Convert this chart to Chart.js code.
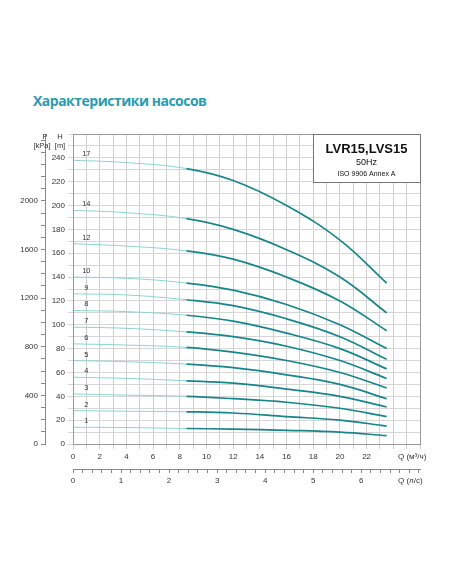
<!DOCTYPE html>
<html><head><meta charset="utf-8">
<script src="https://cdn.jsdelivr.net/npm/chart.js@4"></script>
<style>
body{margin:0;background:#fff;width:452px;height:584px;overflow:hidden;position:relative;font-family:"Open Sans",sans-serif}
#title{position:absolute;left:33px;top:91px;font-size:14px;font-weight:bold;color:#2a9cb0;font-family:"Open Sans",sans-serif;letter-spacing:-0.5px}
canvas{position:absolute;left:0;top:0}
</style></head><body>
<div id="title">Характеристики насосов</div>
<canvas id="c" width="452" height="584"></canvas>
<script>
const flow = [0, 4, 8.5, 12, 16, 20, 23.5];
const stages = [17, 14, 12, 10, 9, 8, 7, 6, 5, 4, 3, 2, 1];
const heads = {
  17: [238, 236, 231, 221, 200, 171, 135],
  14: [196, 194, 189, 180, 163, 140, 110],
  12: [168, 166, 162, 155, 140, 120, 95],
  10: [140, 139, 135, 129, 117, 100, 80],
  9: [126, 125, 121, 116, 105, 90, 71],
  8: [112, 111, 108, 103, 93, 80, 63],
  7: [98, 97, 94, 90, 82, 70, 55],
  6: [84, 83, 81, 77, 70, 60, 47],
  5: [70, 69, 67, 64, 58, 50, 38],
  4: [56, 55, 53, 51, 46, 40, 31],
  3: [42, 41, 40, 38, 35, 30, 23],
  2: [28, 27.5, 27, 26, 23, 20, 15],
  1: [14, 13.8, 13, 12.5, 11.5, 10, 7]
};
const qTicks = [0, 2, 4, 6, 8, 10, 12, 14, 16, 18, 20, 22];
const lsTicks = [0, 1, 2, 3, 4, 5, 6];
const pTicks = [0, 400, 800, 1200, 1600, 2000];
const hTicks = [0, 20, 40, 60, 80, 100, 120, 140, 160, 180, 200, 220, 240];

const light = '#8fd3d0', dark = '#17858a';
const datasets = stages.map(s => ({
  label: String(s),
  data: flow.map((q, i) => ({x: q, y: heads[s][i]})),
  borderColor: dark,
  borderWidth: 1.6,
  pointRadius: 0,
  tension: 0.4,
  segment: {
    borderColor: c => c.p0.parsed.x < 8.4 ? light : dark,
    borderWidth: c => c.p0.parsed.x < 8.4 ? 1 : 1.7
  }
}));

const fix = (w, h) => s => { if (w) s.width = w; if (h) s.height = h; };
const tickFont = {size: 8, family: 'Arial'};

const extras = {
  id: 'extras',
  afterDraw(chart) {
    const {ctx, chartArea: a, scales} = chart;
    const x = scales.x, y = scales.y;
    ctx.save();
    ctx.strokeStyle = '#999';
    ctx.lineWidth = 1;
    ctx.strokeRect(a.left + 0.5, a.top + 0.5, a.right - a.left, a.bottom - a.top);
    ctx.fillStyle = '#333';
    ctx.font = '7.5px Arial';
    ctx.textAlign = 'center';
    ctx.fillText('P', 45, 139);
    ctx.fillText('[kPa]', 42, 148);
    ctx.fillText('H', 60, 139);
    ctx.fillText('[m]', 60, 148);
    ctx.textAlign = 'left';
    ctx.font = '8px Arial';
    ctx.fillText('Q (м³/ч)', 398, 459);
    ctx.fillText('Q (л/с)', 398, 483);
    ctx.font = '7.5px Arial';
    ctx.textAlign = 'center';
    stages.forEach(s => {
      ctx.fillText(String(s), x.getPixelForValue(1), y.getPixelForValue(heads[s][0]) - 4);
    });
    const bx = 313, by = a.top, bw = a.right - bx, bh = 48;
    ctx.fillStyle = '#fff';
    ctx.fillRect(bx, by, bw, bh);
    ctx.strokeStyle = '#777';
    ctx.strokeRect(bx + 0.5, by + 0.5, bw, bh);
    ctx.fillStyle = '#111';
    ctx.font = 'bold 13px Arial';
    ctx.fillText('LVR15,LVS15', bx + bw / 2, by + 19);
    ctx.font = '9px Arial';
    ctx.fillText('50Hz', bx + bw / 2, by + 31);
    ctx.font = '7px Arial';
    ctx.fillText('ISO 9906 Annex A', bx + bw / 2, by + 42);
    ctx.restore();
  }
};

new Chart(document.getElementById('c'), {
  type: 'line',
  data: {datasets},
  plugins: [extras],
  options: {
    responsive: false,
    animation: false,
    layout: {padding: {top: 134, right: 32, bottom: 90, left: 0}},
    plugins: {legend: {display: false}, tooltip: {enabled: false}},
    scales: {
      x: {
        type: 'linear', min: 0, max: 26, position: 'bottom',
        ticks: {stepSize: 1, autoSkip: false, maxRotation: 0, font: tickFont, color: '#333',
          callback: v => qTicks.includes(v) ? String(v) : ''},
        grid: {color: '#cfcfcf', tickLength: 5},
        border: {color: '#888'},
        afterFit: fix(null, 25)
      },
      ls: {
        type: 'linear', min: 0, max: 26 / 3.6, position: 'bottom',
        afterBuildTicks: s => { const t = []; for (let i = 0; i <= 36; i++) t.push({value: i * 0.2}); s.ticks = t; },
        ticks: {autoSkip: false, maxRotation: 0, font: tickFont, color: '#333',
          callback: v => { const r = Math.round(v); return Math.abs(v - r) < 1e-6 && lsTicks.includes(r) ? String(r) : ''; }},
        grid: {drawOnChartArea: false, color: '#888', tickLength: 4},
        border: {color: '#888'},
        afterFit: fix(null, 25)
      },
      y: {
        type: 'linear', min: 0, max: 260, position: 'left',
        ticks: {stepSize: 10, autoSkip: false, font: tickFont, color: '#333', padding: 3,
          callback: v => hTicks.includes(v) ? String(v) : ''},
        grid: {color: '#d6d6d6', tickLength: 5},
        border: {color: '#888'},
        afterFit: fix(28)
      },
      p: {
        type: 'linear', min: 0, max: 260 * 9.81, position: 'left',
        afterBuildTicks: s => { const t = []; for (let i = 0; i <= 25; i++) t.push({value: i * 100}); s.ticks = t; },
        ticks: {autoSkip: false, font: tickFont, color: '#333', padding: 3,
          callback: v => pTicks.includes(v) ? String(v) : ''},
        grid: {drawOnChartArea: false, color: '#888', tickLength: 4},
        border: {color: '#888'},
        afterFit: fix(45)
      }
    }
  }
});
</script>
</body></html>
